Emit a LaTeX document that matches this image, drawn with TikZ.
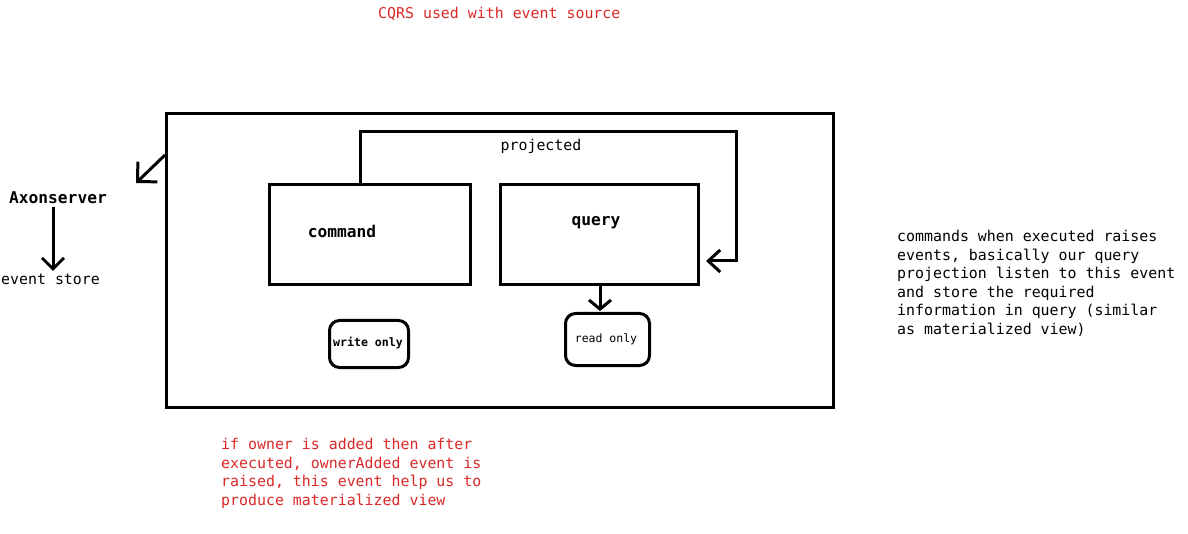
\documentclass[tikz,border=0pt]{standalone}
\usepackage{fontspec}
\newfontfamily\mono{DejaVu Sans Mono}
\usetikzlibrary{arrows.meta}
\definecolor{notered}{RGB}{220,40,40}
\tikzset{
  ln/.style={line width=3pt},
  box/.style={ln, draw, inner sep=0pt},
  rbox/.style={ln, draw, rounded corners=10pt, inner sep=0pt},
  txt/.style={font=\mono\fontsize{14.9}{18.5}\selectfont, inner sep=0pt},
  btxt/.style={font=\mono\bfseries\fontsize{16.2}{19}\selectfont, inner sep=0pt},
  stxt/.style={font=\mono\fontsize{11.5}{14}\selectfont, inner sep=0pt},
  sbtxt/.style={font=\mono\bfseries\fontsize{11.6}{14}\selectfont, inner sep=0pt},
  redtxt/.style={txt, text=notered, align=left},
  barb/.style={-{Straight Barb[length=#1]}},
}
\begin{document}
\begin{tikzpicture}[x=1pt,y=-1pt]
\useasboundingbox[fill=white] (0,0) rectangle (1188,534);
% outer frame
\node[box, minimum width=667pt, minimum height=294pt, anchor=north west] (frame) at (165,112) {};
% command & query
\node[box, minimum width=201pt, minimum height=100pt, anchor=north west] (cmd) at (268,183) {};
\node[box, minimum width=198pt, minimum height=100pt, anchor=north west] (qry) at (499,183) {};
\node[btxt, anchor=base] (cmdl) at (342,238) {command};
\node[btxt, anchor=base] (qryl) at (596,226) {query};
% rounded boxes
\node[rbox, minimum width=79pt, minimum height=47pt, anchor=north west] (wo) at (328,319) {};
\node[sbtxt, anchor=base] (wol) at (368,347) {write only};
\node[rbox, minimum width=84pt, minimum height=52pt, anchor=north west] (ro) at (564,312) {};
\node[stxt, anchor=base] (rol) at (606,342) {read only};
% projected loop
\coordinate (p0) at (360,183);
\coordinate (p1) at (360,132);
\coordinate (p2) at (736,132);
\coordinate (p3) at (736,261);
\coordinate (p4) at (706,261);
\draw[ln, {Straight Barb[length=12pt,width=22pt]}-] (p4) -- (p3) -- (p2) -- (p1) -- (p0);
\node[txt, anchor=base] (projl) at (541,151) {projected};
% query -> read only
\coordinate (q0) at (600,283);
\coordinate (q1) at (600,311);
\draw[ln, -{Straight Barb[length=9pt,width=22pt]}] (q0) -- (q1);
% frame -> Axonserver
\coordinate (a0) at (165,155);
\coordinate (a1) at (136,183);
\draw[ln, -{Straight Barb[length=14pt,width=28pt]}] (a0) -- (a1);
\node[btxt, anchor=base] (axon) at (58,204) {Axonserver};
\coordinate (e0) at (53,207);
\coordinate (e1) at (53,271);
\draw[ln, -{Straight Barb[length=11pt,width=22pt]}] (e0) -- (e1);
\node[txt, anchor=base west] (estore) at (1,285) {event store};
% texts
\node[txt, text=notered, anchor=base west] (title) at (378,19) {CQRS used with event source};
\node[txt, align=left, anchor=north west] (note) at (897,230) {commands when executed raises\\events, basically our query\\projection listen to this event\\and store the required\\information in query (similar\\as materialized view)};
\node[redtxt, anchor=north west] (rnote) at (221,438) {if owner is added then after\\executed, ownerAdded event is\\raised, this event help us to\\produce materialized view};
\end{tikzpicture}
\end{document}
